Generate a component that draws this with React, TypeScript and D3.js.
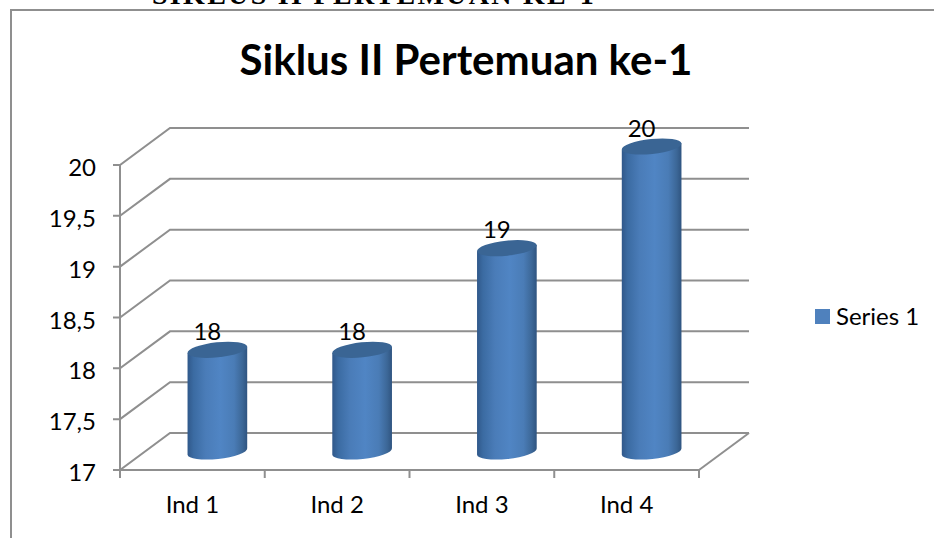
import { useEffect, useRef } from 'react';
import * as d3 from 'd3';

const categories = ['Ind 1', 'Ind 2', 'Ind 3', 'Ind 4'];
const values = [18, 18, 19, 20];
const yTicks = [17, 17.5, 18, 18.5, 19, 19.5, 20];
const seriesName = 'Series 1';
const chartTitle = 'Siklus II Pertemuan ke-1';
const pageHeading = 'SIKLUS II PERTEMUAN KE-1';

const FONT = 'Lato, Carlito, sans-serif';
const GRID = '#8f8f8f';

const App = () => {
  const svgRef = useRef<SVGSVGElement>(null);

  useEffect(() => {
    const svg = d3.select(svgRef.current);
    svg.selectAll('*').remove();

    const depthX = 50;
    const depthY = -37;

    const x = d3.scaleBand().domain(categories).range([120, 699]);
    const y = d3.scaleLinear().domain([17, 20]).range([470, 165]);
    const fmt = (v: number) => String(v).replace('.', ',');

    const defs = svg.append('defs');
    const grad = defs.append('linearGradient').attr('id', 'cyl').attr('x1', 0).attr('x2', 1).attr('y1', 0).attr('y2', 0);
    [[0, '#30588a'], [0.1, '#3b6ba2'], [0.3, '#4a7cb8'], [0.55, '#5085c4'], [0.78, '#4a7cb6'], [0.92, '#3c6797'], [1, '#2f5480']]
      .forEach(([o, c]) => grad.append('stop').attr('offset', o as number).attr('stop-color', c as string));

    // text cut off at the top of the page
    svg.append('text')
      .attr('x', 152).attr('y', 4)
      .attr('font-family', '"Liberation Serif", serif')
      .attr('font-weight', 'bold')
      .attr('font-size', 28)
      .attr('letter-spacing', 2.3)
      .text(pageHeading);

    // chart frame, only left and top are in view
    svg.append('path')
      .attr('d', 'M11,538V10H934')
      .attr('fill', 'none')
      .attr('stroke', GRID)
      .attr('stroke-width', 2);

    svg.append('text')
      .attr('x', 466).attr('y', 75)
      .attr('text-anchor', 'middle')
      .attr('font-family', FONT)
      .attr('font-weight', 'bold')
      .attr('font-size', 42)
      .text(chartTitle);

    const walls = svg.append('g')
      .attr('fill', 'none')
      .attr('stroke', GRID)
      .attr('stroke-width', 2);

    yTicks.forEach(t => {
      const yy = y(t);
      walls.append('path')
        .attr('d', `M113,${yy}H120L${120 + depthX},${yy + depthY}H${699 + depthX}`);
    });

    // axes lines and floor
    walls.append('path').attr('d', `M120,${y(20)}V478`);
    walls.append('path').attr('d', `M120,${y(17)}H699V478`);
    walls.append('path').attr('d', `M699,${y(17)}L${699 + depthX},${y(17) + depthY}`);
    categories.slice(1).forEach(c => {
      walls.append('path').attr('d', `M${x(c)},470V478`);
    });

    svg.append('g')
      .selectAll('text')
      .data(yTicks)
      .join('text')
      .attr('x', 96).attr('y', d => y(d) + 11)
      .attr('text-anchor', 'end')
      .attr('font-family', FONT)
      .attr('font-size', 24)
      .text(d => fmt(d));

    svg.append('g')
      .selectAll('text')
      .data(categories)
      .join('text')
      .attr('x', d => x(d)! + x.bandwidth() / 2)
      .attr('y', 513)
      .attr('text-anchor', 'middle')
      .attr('font-family', FONT)
      .attr('font-size', 24)
      .text(d => d);

    // cylinders
    const rx = 30;
    const ry = 7.5;
    const tilt = -6;
    const dyEdge = rx * Math.sin((tilt * Math.PI) / 180);
    const dxEdge = rx * Math.cos((tilt * Math.PI) / 180);

    categories.forEach((c, i) => {
      const cx = x(c)! + x.bandwidth() / 2 + depthX / 2;
      const top = y(values[i]) + depthY / 2;
      const base = y(17) + depthY / 2;
      const g = svg.append('g');
      g.append('path')
        .attr('d',
          `M${cx - dxEdge},${top - dyEdge}` +
          `L${cx - dxEdge},${base - dyEdge}` +
          `A${rx},${ry} ${tilt} 0 0 ${cx + dxEdge},${base + dyEdge}` +
          `L${cx + dxEdge},${top + dyEdge}Z`)
        .attr('fill', 'url(#cyl)');
      g.append('ellipse')
        .attr('rx', rx).attr('ry', ry)
        .attr('transform', `translate(${cx},${top}) rotate(${tilt})`)
        .attr('fill', '#3a6594');
      svg.append('text')
        .attr('x', cx - 10)
        .attr('y', top - 10)
        .attr('text-anchor', 'middle')
        .attr('font-family', FONT)
        .attr('font-size', 24)
        .text(values[i]);
    });

    // legend
    svg.append('rect')
      .attr('x', 815).attr('y', 309).attr('width', 15).attr('height', 15)
      .attr('fill', '#4f81bd');
    svg.append('text')
      .attr('x', 836).attr('y', 325)
      .attr('font-family', FONT)
      .attr('font-size', 24)
      .text(seriesName);
  }, []);

  return (
    <svg
      ref={svgRef}
      width={934}
      height={538}
      style={{ position: 'absolute', left: 0, top: 0, background: '#fff' }}
    />
  );
};

export default App;
